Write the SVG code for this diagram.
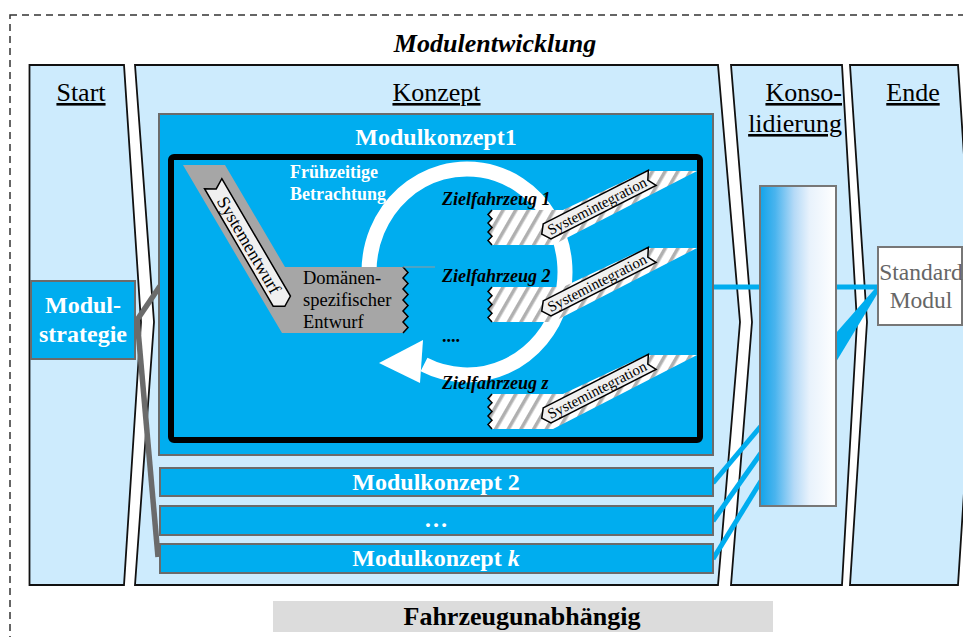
<svg xmlns="http://www.w3.org/2000/svg" width="963" height="637" viewBox="0 0 963 637">
  <defs>
    <style>
      .phase{fill:#cdebfd;stroke:#111;stroke-width:1.8;stroke-linejoin:miter}
      .serif{font-family:"Liberation Serif","Times New Roman",serif}
      .lbl{font-size:26px;fill:#000;text-decoration:underline}
      .box{fill:#00adef;stroke:#6b6b6b;stroke-width:2}
      .wt{font-weight:bold;fill:#fff;text-anchor:middle}
      .zf{font-weight:bold;font-style:italic;font-size:18px;fill:#000}
      .banner{fill:#f0f0f0;stroke:#000;stroke-width:1.5;stroke-linejoin:miter}
      .zig{fill:none;stroke:#000;stroke-width:1.5}
      .flow{stroke:#00adef;stroke-width:5;fill:none}
      .strat{stroke:#6b6b6b;stroke-width:5.5;fill:none}
    </style>
    <pattern id="hatch" width="11" height="20" patternUnits="userSpaceOnUse" patternTransform="rotate(30)">
      <rect width="11" height="20" fill="#fff"/>
      <rect width="3.5" height="20" fill="#b0b0b0"/>
    </pattern>
    <linearGradient id="consFill" x1="0" y1="0" x2="1" y2="0">
      <stop offset="0" stop-color="#12a4ea"/>
      <stop offset="0.2" stop-color="#4ab4ee"/>
      <stop offset="0.45" stop-color="#b5daf7"/>
      <stop offset="0.65" stop-color="#e8f2fc"/>
      <stop offset="1" stop-color="#ffffff"/>
    </linearGradient>
    <!-- arrow banner along a sloped band: pointed lower end, notched upper end -->
    <path id="bannerInt" d="M-56,-8.5 L62,-8.5 L57,0 L62,8.5 L-56,8.5 L-62,0 Z"/>
    <!-- band hatched shape for one target vehicle -->
    <polygon id="zfBand" points="492,210 563,210 646,171 697,171 553,245 492,245 488,240.6 492,236.3 488,231.9 492,227.5 488,223.1 492,218.8 488,214.4"/>
    <polyline id="zfZig" points="492,210 488,214.4 492,218.8 488,223.1 492,227.5 488,231.9 492,236.3 488,240.6 492,245"/>
  </defs>

  <rect width="963" height="637" fill="#fff"/>

  <!-- outer dashed frame -->
  <rect x="10" y="15" width="1000" height="700" fill="none" stroke="#333" stroke-width="1.5" stroke-dasharray="7,5"/>
  <text class="serif" x="495" y="52" font-size="26" font-weight="bold" font-style="italic" text-anchor="middle">Modulentwicklung</text>

  <!-- phases -->
  <g id="phase-start">
    <path class="phase" d="M29.5,65 L124,65 L141,322 L124,585 L29.5,585 Z"/>
    <text class="serif lbl" x="81" y="101" text-anchor="middle">Start</text>
  </g>
  <g id="phase-konzept">
    <path class="phase" d="M135,65 L718,65 L740,322 L718,585 L135,585 L154,322 Z"/>
    <text class="serif lbl" x="436.5" y="101" text-anchor="middle">Konzept</text>
  </g>
  <g id="phase-konsolidierung">
    <path class="phase" d="M731,65 L842,65 L857,322 L842,585 L731,585 L752,322 Z"/>
    <text class="serif lbl" x="842" y="101" text-anchor="end">Konso-</text>
    <text class="serif lbl" x="842" y="132" text-anchor="end">lidierung</text>
  </g>
  <g id="phase-ende">
    <path class="phase" d="M850,65 L958,65 L975,322 L958,585 L850,585 L867,322 Z"/>
    <text class="serif lbl" x="913" y="101" text-anchor="middle">Ende</text>
  </g>

  <!-- connectors -->
  <g id="connectors">
    <line class="strat" x1="137" y1="320" x2="160" y2="286"/>
    <line class="strat" x1="137" y1="318" x2="158" y2="557"/>
    <line class="flow" x1="712" y1="287" x2="761" y2="287"/>
    <line class="flow" x1="835" y1="287" x2="879" y2="287"/>
    <polygon fill="#00adef" points="879,284 879,291 836,362 836,333"/>
    <line class="flow" x1="713" y1="483" x2="761" y2="426"/>
    <line class="flow" x1="713" y1="521" x2="761" y2="453"/>
    <line class="flow" x1="713" y1="559" x2="761" y2="481"/>
  </g>

  <g id="modulstrategie">
    <rect class="box" x="31" y="281" width="104" height="78"/>
    <text class="serif wt" x="83" y="313" font-size="24">Modul-</text>
    <text class="serif wt" x="83" y="342" font-size="24">strategie</text>
  </g>

  <g id="modulkonzept-1">
    <rect class="box" x="159" y="114" width="554" height="341"/>
    <text class="serif wt" x="436" y="145" font-size="24">Modulkonzept1</text>
    <rect x="171" y="157" width="529" height="283" rx="3" fill="#00adef" stroke="#000" stroke-width="6"/>

    <!-- iteration ring -->
    <path d="M369,272 A98,103 0 1,1 424,364.5" fill="none" stroke="#fff" stroke-width="15"/>
    <polygon fill="#fff" points="379,363 423,340 420,383"/>

    <!-- system design band into domain-specific design -->
    <g id="systementwurf">
      <polygon fill="#a6a6a6" points="183,165 225,165 285,267 403,267 408,272.5 403,278 408,283.5 403,289 408,294.5 403,300 408,305.5 403,311 408,316.5 403,322 408,327.5 403,333 282,333"/>
      <polyline class="zig" points="403,267 408,272.5 403,278 408,283.5 403,289 408,294.5 403,300 408,305.5 403,311 408,316.5 403,322 408,327.5 403,333"/>
      <line x1="403" y1="267" x2="435" y2="267" stroke="#9a9a9a" stroke-width="1"/>
      <g transform="translate(249,245) rotate(59.7)">
        <path class="banner" d="M-71,-10 L65,-10 L71,0 L65,10 L-71,10 L-65,0 Z"/>
        <text class="serif" x="0" y="6" font-size="18" text-anchor="middle">Systementwurf</text>
      </g>
      <text class="serif" x="303" y="284" font-size="18.5">Domänen-</text>
      <text class="serif" x="303" y="306" font-size="18.5">spezifischer</text>
      <text class="serif" x="303" y="328" font-size="18.5">Entwurf</text>
    </g>

    <text class="serif" x="290" y="178" font-size="18" font-weight="bold" fill="#fff">Frühzeitige</text>
    <text class="serif" x="290" y="200" font-size="18" font-weight="bold" fill="#fff">Betrachtung</text>

    <!-- target vehicles with system integration -->
    <g id="zielfahrzeug-1">
      <use href="#zfBand" fill="url(#hatch)"/>
      <use href="#zfZig" class="zig"/>
      <g transform="translate(597,206) rotate(-27)">
        <use href="#bannerInt" class="banner"/>
        <text class="serif" x="0" y="5" font-size="15" text-anchor="middle">Systemintegration</text>
      </g>
      <text class="serif zf" x="442" y="205">Zielfahrzeug 1</text>
    </g>
    <g id="zielfahrzeug-2">
      <g transform="translate(0,77)">
        <use href="#zfBand" fill="url(#hatch)"/>
        <use href="#zfZig" class="zig"/>
        <g transform="translate(597,206) rotate(-27)">
          <use href="#bannerInt" class="banner"/>
          <text class="serif" x="0" y="5" font-size="15" text-anchor="middle">Systemintegration</text>
        </g>
      </g>
      <text class="serif zf" x="442" y="282">Zielfahrzeug 2</text>
    </g>
    <text class="serif" x="442" y="342" font-size="18" font-weight="bold">....</text>
    <g id="zielfahrzeug-z">
      <g transform="translate(0,184)">
        <use href="#zfBand" fill="url(#hatch)"/>
        <use href="#zfZig" class="zig"/>
        <g transform="translate(597,206) rotate(-27)">
          <use href="#bannerInt" class="banner"/>
          <text class="serif" x="0" y="5" font-size="15" text-anchor="middle">Systemintegration</text>
        </g>
      </g>
      <text class="serif zf" x="442" y="389">Zielfahrzeug z</text>
    </g>
  </g>

  <g id="modulkonzept-2">
    <rect class="box" x="160" y="468" width="553" height="28"/>
    <text class="serif wt" x="436" y="490" font-size="24">Modulkonzept 2</text>
  </g>
  <g id="modulkonzept-dots">
    <rect class="box" x="160" y="506" width="553" height="29"/>
    <text class="serif wt" x="436" y="527" font-size="24">…</text>
  </g>
  <g id="modulkonzept-k">
    <rect class="box" x="160" y="544" width="553" height="29"/>
    <text class="serif wt" x="436" y="566" font-size="24">Modulkonzept <tspan font-style="italic">k</tspan></text>
  </g>

  <g id="konsolidierung">
    <rect x="760" y="186" width="76" height="320" fill="url(#consFill)" stroke="#777" stroke-width="2"/>
  </g>

  <g id="standard-modul">
    <rect x="878" y="247" width="84" height="78" fill="#fff" stroke="#777" stroke-width="2"/>
    <text class="serif" x="921" y="280" font-size="23.5" fill="#666" text-anchor="middle">Standard</text>
    <text class="serif" x="921" y="308" font-size="23.5" fill="#666" text-anchor="middle">Modul</text>
  </g>

  <g id="fahrzeugunabhaengig">
    <rect x="273" y="601" width="500" height="31" fill="#dcdcdc"/>
    <text class="serif" x="522" y="625" font-size="26" font-weight="bold" text-anchor="middle">Fahrzeugunabhängig</text>
  </g>
</svg>
